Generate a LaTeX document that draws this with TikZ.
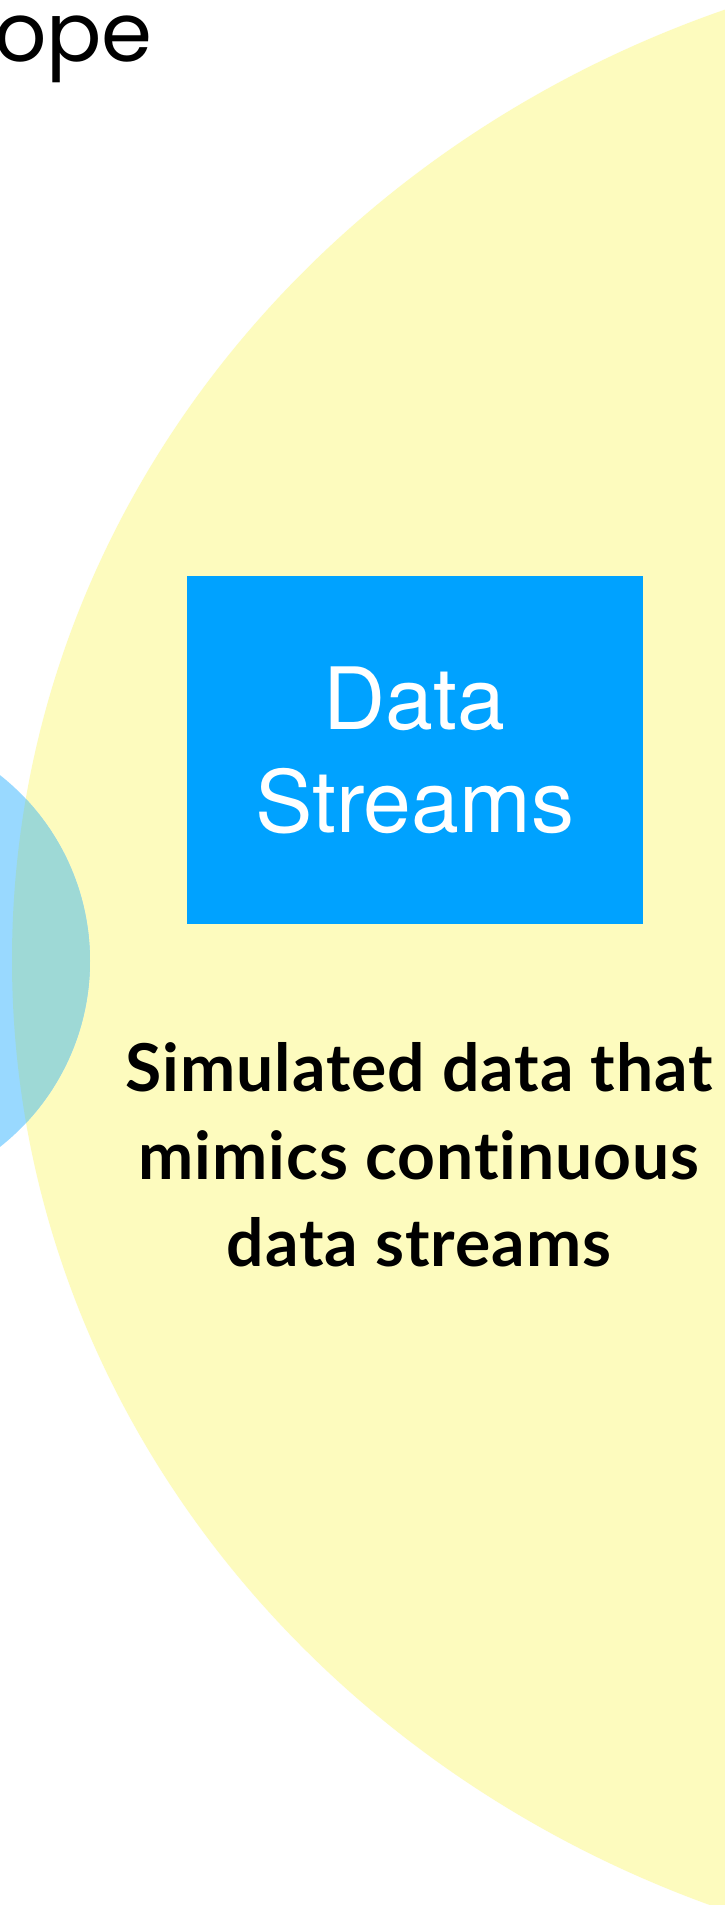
\documentclass[tikz,border=0pt]{standalone}
\usepackage{fontspec}
\newfontfamily\heros{TeX Gyre Heros}
\newfontfamily\lato[Ligatures={NoCommon,NoDiscretionary,NoContextual},LetterSpace=1.5]{Lato}
\newfontfamily\pop{Poppins}
\definecolor{yellowc}{HTML}{FDFBBE}
\definecolor{lightblue}{HTML}{99D9FF}
\definecolor{overlapc}{HTML}{9ED9D6}
\definecolor{boxblue}{HTML}{00A2FF}
\begin{document}
\begin{tikzpicture}[x=1pt,y=1pt,
  titletext/.style={inner sep=0pt, font=\pop\fontsize{82}{90}\selectfont, text=black},
  dsbox/.style={fill=boxblue, draw=none, minimum width=456pt, minimum height=348pt, inner sep=0pt,
    align=center, text=white, font=\heros\fontsize{86}{103}\selectfont},
  desc/.style={inner sep=0pt, align=center, text=black, font=\lato\bfseries\fontsize{66}{87.5}\selectfont}]
\useasboundingbox (0,0) rectangle (725,-1905);
\fill[white] (0,0) rectangle (725,-1905);
\begin{scope}
\clip (0,0) rectangle (725,-1905);
\fill[yellowc] (1112,-960) ellipse [x radius=1100pt, y radius=1015pt];
\fill[lightblue] (-147,-961) circle [radius=237pt];
\begin{scope}
\clip (1112,-960) ellipse [x radius=1100pt, y radius=1015pt];
\fill[overlapc] (-147,-961) circle [radius=237pt];
\end{scope}
\node[titletext, anchor=base east] (scope) at (153,-62) {ope};
\end{scope}
\node[dsbox] (ds) at (414.7,-750) {Data\\Streams};
\node[desc, anchor=base] (sim) at (419,-1266.7) {Simulated data that\\mimics continuous\\data streams};
\end{tikzpicture}
\end{document}
